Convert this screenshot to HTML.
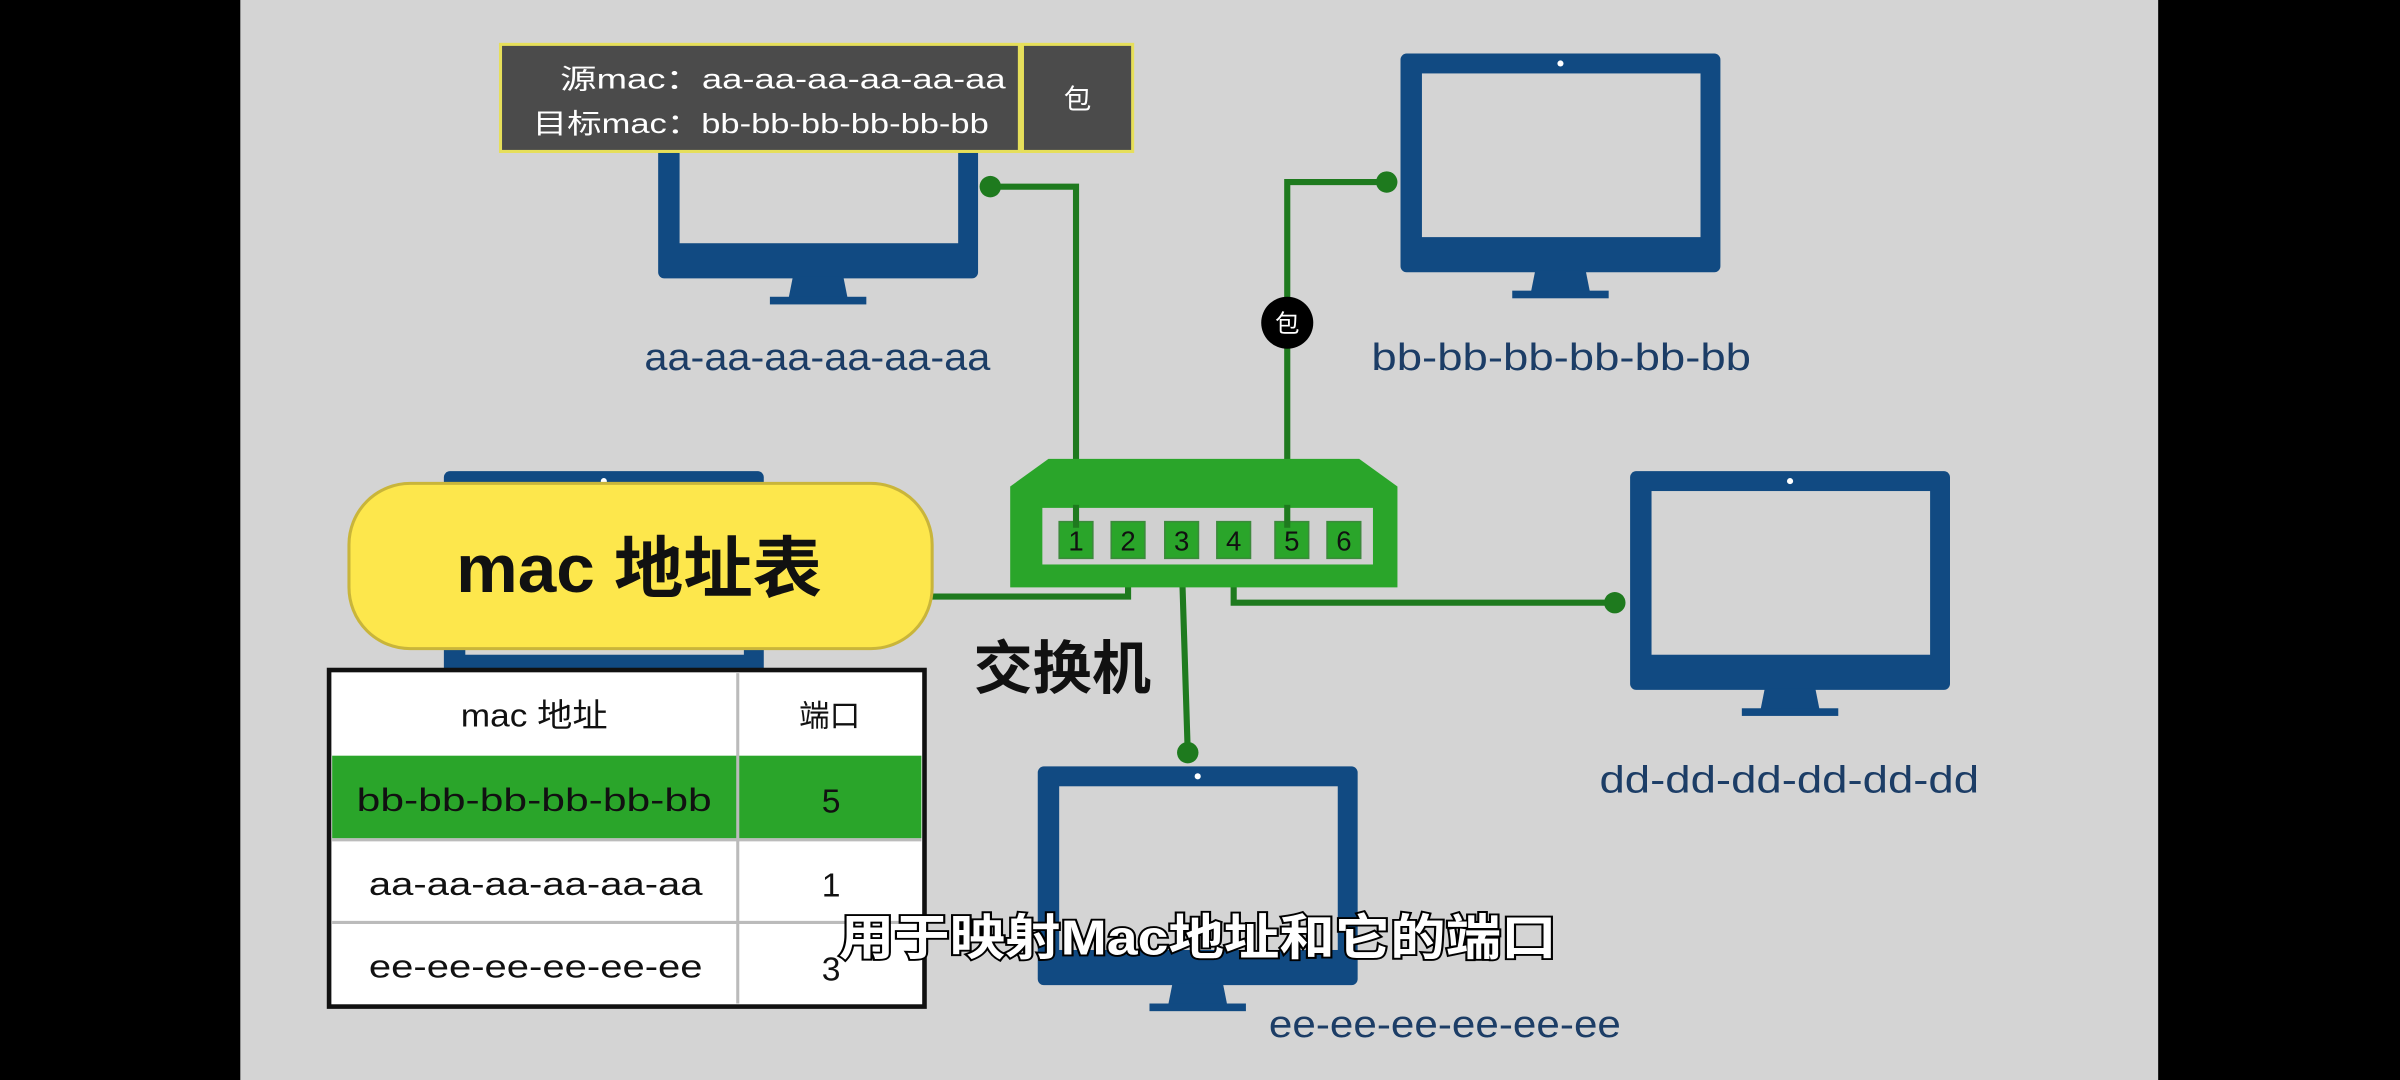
<!DOCTYPE html>
<html><head><meta charset="utf-8"><style>
html,body{margin:0;padding:0;background:#000;}
svg{display:block;}
text{font-family:"Liberation Sans","Noto Sans CJK SC",sans-serif;}
</style></head><body>
<svg width="2400" height="1080" viewBox="0 0 1568 706" preserveAspectRatio="none" xmlns="http://www.w3.org/2000/svg">
<defs>
<g id="mon">
<rect x="0" y="0" width="209" height="143" rx="4" fill="#114a82"/>
<rect x="14" y="13" width="182" height="107" fill="#d4d4d4"/>
<circle cx="104.5" cy="6.5" r="2" fill="#fff"/>
<polygon points="88,142 121,142 124,157 85,157" fill="#114a82"/>
<rect x="73" y="155" width="63" height="5" fill="#114a82"/>
</g>
</defs>
<rect x="0" y="0" width="1568" height="706" fill="#000"/>
<rect x="157" y="0" width="1253" height="706" fill="#d4d4d4"/>

<use href="#mon" x="430" y="39"/>
<use href="#mon" x="915" y="35"/>
<use href="#mon" x="1065" y="308"/>
<use href="#mon" x="290" y="308"/>
<use href="#mon" x="678" y="501"/>

<g stroke="#1e7a1e" stroke-width="4" fill="none">
<polyline points="647,122 703,122 703,345"/>
<polyline points="906,119 841,119 841,345"/>
<polyline points="737,365 737,390 600,390"/>
<polyline points="772,365 776,492"/>
<polyline points="806,365 806,394 1055,394"/>
</g>
<g fill="#1e7a1e">
<circle cx="647" cy="122" r="7"/>
<circle cx="906" cy="119" r="7"/>
<circle cx="776" cy="492" r="7"/>
<circle cx="1055" cy="394" r="7"/>
</g>

<polygon points="660,318 685,300 888,300 913,318 913,384 660,384" fill="#2aa52a"/>
<rect x="681" y="332" width="216" height="37" fill="#d0d0d0"/>
<g fill="#2aa52a" stroke="#3c8a3c" stroke-width="1">
<rect x="692" y="341" width="22" height="24"/>
<rect x="726" y="341" width="22" height="24"/>
<rect x="761" y="341" width="22" height="24"/>
<rect x="795" y="341" width="22" height="24"/>
<rect x="833" y="341" width="22" height="24"/>
<rect x="867" y="341" width="22" height="24"/>
</g>
<g stroke="#1e7a1e" stroke-width="4"><line x1="703" y1="330" x2="703" y2="345"/><line x1="841" y1="330" x2="841" y2="345"/></g>
<g font-size="18" fill="#111" text-anchor="middle">
<text x="703" y="360">1</text><text x="737" y="360">2</text><text x="772" y="360">3</text>
<text x="806" y="360">4</text><text x="844" y="360">5</text><text x="878" y="360">6</text>
</g>

<circle cx="841" cy="211" r="17" fill="#000"/>
<text x="841" y="217" font-size="16" fill="#fff" text-anchor="middle">包</text>

<rect x="327" y="29" width="339" height="70" fill="#4b4b4b" stroke="#e6df5a" stroke-width="2"/>
<rect x="668" y="29" width="72" height="70" fill="#4b4b4b" stroke="#e6df5a" stroke-width="2"/>
<text x="366" y="58" font-size="18" fill="#fff" textLength="291" lengthAdjust="spacingAndGlyphs">源mac：aa-aa-aa-aa-aa-aa</text>
<text x="348" y="87" font-size="18" fill="#fff" textLength="298" lengthAdjust="spacingAndGlyphs">目标mac：bb-bb-bb-bb-bb-bb</text>
<text x="704" y="71" font-size="18" fill="#fff" text-anchor="middle">包</text>

<g font-size="25" fill="#1c3d66">
<text x="421" y="242" textLength="226" lengthAdjust="spacingAndGlyphs">aa-aa-aa-aa-aa-aa</text>
<text x="896" y="242" textLength="248" lengthAdjust="spacingAndGlyphs">bb-bb-bb-bb-bb-bb</text>
<text x="1045" y="518" textLength="248" lengthAdjust="spacingAndGlyphs">dd-dd-dd-dd-dd-dd</text>
<text x="829" y="678" textLength="230" lengthAdjust="spacingAndGlyphs">ee-ee-ee-ee-ee-ee</text>
</g>
<text x="636" y="450" font-size="38" font-weight="bold" fill="#111" textLength="116" lengthAdjust="spacingAndGlyphs">交换机</text>

<rect x="228" y="316" width="381" height="108" rx="40" fill="#fde74c" stroke="#c9b53a" stroke-width="2"/>
<text x="298" y="387" font-size="44" font-weight="bold" fill="#111" textLength="239" lengthAdjust="spacingAndGlyphs">mac 地址表</text>

<rect x="215" y="438" width="389" height="220" fill="#fff" stroke="#111" stroke-width="3"/>
<rect x="217" y="494" width="385" height="54" fill="#2aa52a"/>
<g stroke="#bbb" stroke-width="2">
<line x1="482" y1="440" x2="482" y2="656"/>
<line x1="217" y1="549" x2="602" y2="549"/>
<line x1="217" y1="603" x2="602" y2="603"/>
</g>
<g font-size="21" fill="#111">
<text x="301" y="475" textLength="96" lengthAdjust="spacingAndGlyphs">mac 地址</text><text x="522" y="475" font-size="20">端口</text>
<text x="233" y="530" textLength="232" lengthAdjust="spacingAndGlyphs">bb-bb-bb-bb-bb-bb</text><text x="543" y="531" text-anchor="middle" font-size="22">5</text>
<text x="241" y="585" textLength="218" lengthAdjust="spacingAndGlyphs">aa-aa-aa-aa-aa-aa</text><text x="543" y="586" text-anchor="middle" font-size="22">1</text>
<text x="241" y="639" textLength="218" lengthAdjust="spacingAndGlyphs">ee-ee-ee-ee-ee-ee</text><text x="543" y="641" text-anchor="middle" font-size="22">3</text>
</g>

<text x="548" y="624" font-size="32" font-weight="bold" fill="#fff" stroke="#000" stroke-width="2.5" paint-order="stroke" textLength="469" lengthAdjust="spacingAndGlyphs">用于映射Mac地址和它的端口</text>
</svg>
</body></html>
